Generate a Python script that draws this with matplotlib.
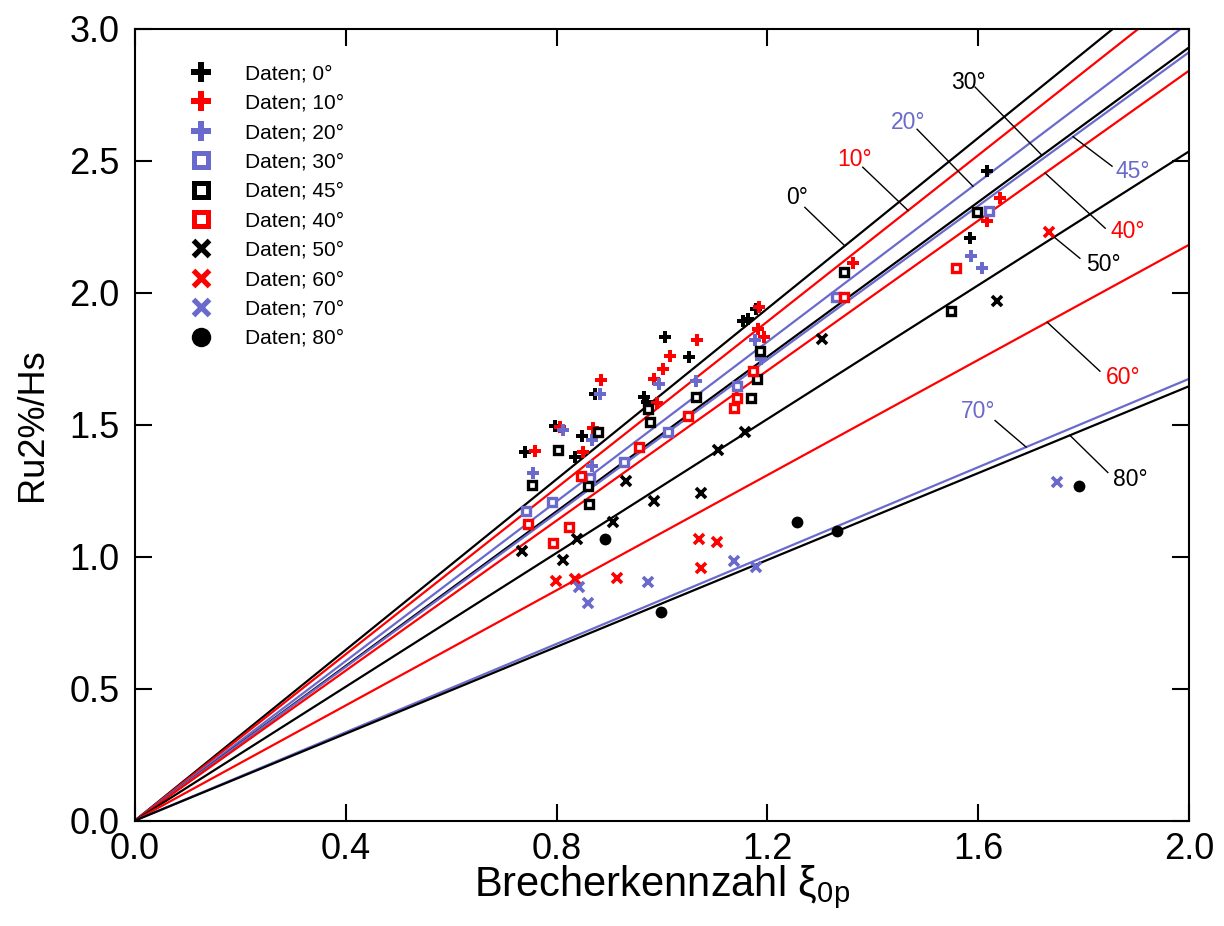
import numpy as np
import matplotlib
matplotlib.use("Agg")
import matplotlib.pyplot as plt

plt.rcParams['font.family'] = ['Liberation Sans', 'DejaVu Sans']
plt.rcParams['mathtext.fontset'] = 'custom'
plt.rcParams['mathtext.rm'] = 'Liberation Sans'
plt.rcParams['mathtext.it'] = 'Liberation Sans'

RED = '#FF0000'
BLUE = '#6A6ACD'
BLACK = '#000000'

# Messdaten (xi_0p, Ru2%/Hs) je Wellenangriffsrichtung
x_0 = [0.740, 0.797, 0.835, 0.848, 0.873, 0.966, 0.972, 1.006, 1.051, 1.154, 1.163, 1.178, 1.617, 1.584]
y_0 = [1.395, 1.494, 1.376, 1.459, 1.615, 1.607, 1.585, 1.831, 1.755, 1.892, 1.899, 1.937, 2.461, 2.209]

x_10 = [0.759, 0.806, 0.850, 0.869, 0.884, 0.985, 0.990, 1.002, 1.015, 1.066, 1.184, 1.182, 1.194, 1.362, 1.641, 1.617]
y_10 = [1.402, 1.490, 1.398, 1.489, 1.668, 1.672, 1.584, 1.710, 1.759, 1.820, 1.945, 1.862, 1.831, 2.113, 2.359, 2.274]

x_20 = [0.755, 0.812, 0.882, 0.867, 0.867, 0.994, 1.065, 1.176, 1.188, 1.586, 1.607]
y_20 = [1.318, 1.479, 1.615, 1.444, 1.342, 1.653, 1.665, 1.820, 1.748, 2.140, 2.093]

x_30 = [0.742, 0.791, 0.863, 0.928, 1.011, 1.142, 1.330, 1.620]
y_30 = [1.174, 1.209, 1.300, 1.357, 1.471, 1.645, 1.983, 2.310]

x_45 = [0.754, 0.803, 0.879, 0.862, 0.860, 0.977, 0.974, 1.065, 1.181, 1.169, 1.186, 1.345, 1.548, 1.598]
y_45 = [1.273, 1.403, 1.471, 1.201, 1.266, 1.512, 1.558, 1.607, 1.675, 1.603, 1.781, 2.078, 1.930, 2.307]

x_40 = [0.746, 0.793, 0.824, 0.846, 0.956, 1.049, 1.137, 1.142, 1.173, 1.345, 1.558]
y_40 = [1.125, 1.053, 1.114, 1.307, 1.414, 1.535, 1.562, 1.603, 1.702, 1.983, 2.093]

x_50 = [0.734, 0.812, 0.839, 0.907, 0.932, 0.985, 1.074, 1.106, 1.157, 1.304, 1.636]
y_50 = [1.023, 0.989, 1.068, 1.133, 1.285, 1.212, 1.243, 1.406, 1.471, 1.824, 1.968]

x_60 = [0.799, 0.835, 0.915, 1.070, 1.104, 1.074, 1.734]
y_60 = [0.909, 0.916, 0.920, 1.068, 1.057, 0.958, 2.231]

x_70 = [0.842, 0.860, 0.973, 1.137, 1.178, 1.750]
y_70 = [0.886, 0.826, 0.904, 0.982, 0.959, 1.282]

x_80 = [0.892, 0.998, 1.256, 1.332, 1.791]
y_80 = [1.068, 0.792, 1.130, 1.099, 1.267]

# Ausgleichsgeraden Ru2%/Hs = c * xi_0p
winkel = ['0°', '10°', '20°', '30°', '45°', '40°', '50°', '60°', '70°', '80°']
steigung = [1.617, 1.576, 1.512, 1.465, 1.456, 1.421, 1.268, 1.091, 0.837, 0.823]
linien_farbe = [BLACK, RED, BLUE, BLACK, BLUE, RED, BLACK, RED, BLUE, BLACK]
text_farbe = [BLACK, RED, BLUE, BLACK, BLUE, RED, BLACK, RED, BLUE, BLACK]

# Beschriftung: Textposition, Beginn der Hinweislinie, x auf der Geraden
text_pos = [(1.256, 2.362), (1.366, 2.507), (1.467, 2.647), (1.581, 2.799), (1.894, 2.461),
            (1.884, 2.233), (1.837, 2.108), (1.875, 1.679), (1.600, 1.550), (1.888, 1.292)]
hinweis_start = [(1.271, 2.324), (1.381, 2.476), (1.484, 2.620), (1.594, 2.780), (1.854, 2.480),
                 (1.841, 2.245), (1.793, 2.131), (1.831, 1.703), (1.632, 1.516), (1.846, 1.319)]
hinweis_x = [1.347, 1.467, 1.590, 1.721, 1.780, 1.727, 1.744, 1.731, 1.691, 1.774]

fig = plt.figure(figsize=(12.24, 9.26), dpi=100)
ax = fig.add_axes([0.1103, 0.1139, 0.8611, 0.8548])

xx = np.array([0.0, 2.0])
for c, col in zip(steigung, linien_farbe):
    ax.plot(xx, c * xx, color=col, linewidth=1.6, zorder=2)

for (tx, ty), (sx, sy), hx, c, col, w in zip(text_pos, hinweis_start, hinweis_x, steigung, text_farbe, winkel):
    ax.plot([sx, hx], [sy, c * hx], color='black', linewidth=1.0, zorder=2)
    ax.text(tx, ty, w, color=col, fontsize=16.5, ha='center', va='center', zorder=3)

ax.plot(x_0, y_0, 'P', color=BLACK, ms=9, mew=0, ls='none', label='Daten; 0°', zorder=4)
ax.plot(x_10, y_10, 'P', color=RED, ms=9, mew=0, ls='none', label='Daten; 10°', zorder=4)
ax.plot(x_20, y_20, 'P', color=BLUE, ms=9, mew=0, ls='none', label='Daten; 20°', zorder=4)
ax.plot(x_30, y_30, 's', mec=BLUE, mfc='white', ms=6.3, mew=2.4, ls='none', label='Daten; 30°', zorder=4)
ax.plot(x_45, y_45, 's', mec=BLACK, mfc='white', ms=6.3, mew=2.4, ls='none', label='Daten; 45°', zorder=4)
ax.plot(x_40, y_40, 's', mec=RED, mfc='white', ms=6.3, mew=2.4, ls='none', label='Daten; 40°', zorder=4)
ax.plot(x_50, y_50, 'x', color=BLACK, ms=7.5, mew=2.6, ls='none', label='Daten; 50°', zorder=4)
ax.plot(x_60, y_60, 'x', color=RED, ms=7.5, mew=2.6, ls='none', label='Daten; 60°', zorder=4)
ax.plot(x_70, y_70, 'x', color=BLUE, ms=7.5, mew=2.6, ls='none', label='Daten; 70°', zorder=4)
ax.plot(x_80, y_80, 'o', color=BLACK, ms=8.5, mew=0, ls='none', label='Daten; 80°', zorder=4)

ax.set_xlim(0, 2.0)
ax.set_ylim(0, 3.0)
ax.set_xticks(np.arange(0, 2.01, 0.4))
ax.set_yticks(np.arange(0, 3.01, 0.5))
ax.xaxis.set_major_formatter(matplotlib.ticker.FormatStrFormatter('%.1f'))
ax.yaxis.set_major_formatter(matplotlib.ticker.FormatStrFormatter('%.1f'))
ax.tick_params(direction='in', length=12, width=1.5, labelsize=26, top=True, right=True)
ax.tick_params(axis='x', pad=8)
ax.tick_params(axis='y', pad=11)
for s in ax.spines.values():
    s.set_linewidth(1.5)

ax.set_xlabel(r'Brecherkennzahl $\mathregular{\xi_{0p}}$', fontsize=30, labelpad=-2)
ax.set_ylabel('Ru2%/Hs', fontsize=26, labelpad=14)

leg = ax.legend(loc='upper left', bbox_to_anchor=(0.045, 0.966), frameon=False, fontsize=15,
                handlelength=1.0, handletextpad=1.6, labelspacing=0.5, borderaxespad=0)
# groessere Symbole in der Legende
for h in leg.legend_handles:
    m = h.get_marker()
    if m == 'P':
        h.set_markersize(14)
    elif m == 's':
        h.set_markersize(10.5)
        h.set_markeredgewidth(3.6)
    elif m == 'x':
        h.set_markersize(11)
        h.set_markeredgewidth(3.8)
    else:
        h.set_markersize(14)

fig.savefig('out.png', dpi=100)
